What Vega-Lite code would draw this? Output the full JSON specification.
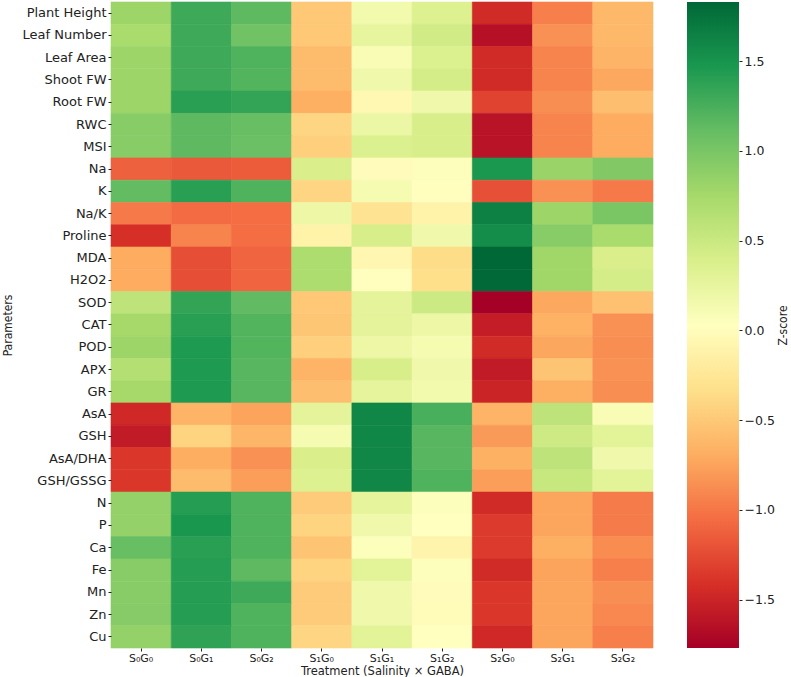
{
  "$schema": "https://vega.github.io/schema/vega-lite/v6.json",
  "background": "white",
  "padding": {"left": 1, "top": 1, "right": 0, "bottom": 0},
  "spacing": 33,
  "config": {
    "view": {"stroke": null},
    "font": "DejaVu Sans",
    "axis": {
      "domain": false,
      "ticks": true,
      "tickSize": 3,
      "tickColor": "#222",
      "labelColor": "#222",
      "titleColor": "#222",
      "labelFont": "DejaVu Sans",
      "titleFont": "DejaVu Sans",
      "labelFontSize": 11,
      "titleFontSize": 11,
      "titleFontWeight": "normal",
      "labelPadding": 2,
      "grid": false
    }
  },
  "datasets": {
    "cells": [
      {"parameter": "Plant Height", "treatment": "S₀G₀", "z": 0.80},
      {"parameter": "Plant Height", "treatment": "S₀G₁", "z": 1.30},
      {"parameter": "Plant Height", "treatment": "S₀G₂", "z": 1.15},
      {"parameter": "Plant Height", "treatment": "S₁G₀", "z": -0.50},
      {"parameter": "Plant Height", "treatment": "S₁G₁", "z": 0.15},
      {"parameter": "Plant Height", "treatment": "S₁G₂", "z": 0.35},
      {"parameter": "Plant Height", "treatment": "S₂G₀", "z": -1.45},
      {"parameter": "Plant Height", "treatment": "S₂G₁", "z": -0.95},
      {"parameter": "Plant Height", "treatment": "S₂G₂", "z": -0.62},
      {"parameter": "Leaf Number", "treatment": "S₀G₀", "z": 0.72},
      {"parameter": "Leaf Number", "treatment": "S₀G₁", "z": 1.30},
      {"parameter": "Leaf Number", "treatment": "S₀G₂", "z": 1.05},
      {"parameter": "Leaf Number", "treatment": "S₁G₀", "z": -0.50},
      {"parameter": "Leaf Number", "treatment": "S₁G₁", "z": 0.25},
      {"parameter": "Leaf Number", "treatment": "S₁G₂", "z": 0.45},
      {"parameter": "Leaf Number", "treatment": "S₂G₀", "z": -1.65},
      {"parameter": "Leaf Number", "treatment": "S₂G₁", "z": -0.85},
      {"parameter": "Leaf Number", "treatment": "S₂G₂", "z": -0.62},
      {"parameter": "Leaf Area", "treatment": "S₀G₀", "z": 0.80},
      {"parameter": "Leaf Area", "treatment": "S₀G₁", "z": 1.30},
      {"parameter": "Leaf Area", "treatment": "S₀G₂", "z": 1.22},
      {"parameter": "Leaf Area", "treatment": "S₁G₀", "z": -0.60},
      {"parameter": "Leaf Area", "treatment": "S₁G₁", "z": 0.10},
      {"parameter": "Leaf Area", "treatment": "S₁G₂", "z": 0.37},
      {"parameter": "Leaf Area", "treatment": "S₂G₀", "z": -1.45},
      {"parameter": "Leaf Area", "treatment": "S₂G₁", "z": -0.93},
      {"parameter": "Leaf Area", "treatment": "S₂G₂", "z": -0.65},
      {"parameter": "Shoot FW", "treatment": "S₀G₀", "z": 0.80},
      {"parameter": "Shoot FW", "treatment": "S₀G₁", "z": 1.30},
      {"parameter": "Shoot FW", "treatment": "S₀G₂", "z": 1.20},
      {"parameter": "Shoot FW", "treatment": "S₁G₀", "z": -0.60},
      {"parameter": "Shoot FW", "treatment": "S₁G₁", "z": 0.17},
      {"parameter": "Shoot FW", "treatment": "S₁G₂", "z": 0.42},
      {"parameter": "Shoot FW", "treatment": "S₂G₀", "z": -1.45},
      {"parameter": "Shoot FW", "treatment": "S₂G₁", "z": -0.93},
      {"parameter": "Shoot FW", "treatment": "S₂G₂", "z": -0.72},
      {"parameter": "Root FW", "treatment": "S₀G₀", "z": 0.80},
      {"parameter": "Root FW", "treatment": "S₀G₁", "z": 1.40},
      {"parameter": "Root FW", "treatment": "S₀G₂", "z": 1.35},
      {"parameter": "Root FW", "treatment": "S₁G₀", "z": -0.68},
      {"parameter": "Root FW", "treatment": "S₁G₁", "z": -0.05},
      {"parameter": "Root FW", "treatment": "S₁G₂", "z": 0.17},
      {"parameter": "Root FW", "treatment": "S₂G₀", "z": -1.30},
      {"parameter": "Root FW", "treatment": "S₂G₁", "z": -0.87},
      {"parameter": "Root FW", "treatment": "S₂G₂", "z": -0.57},
      {"parameter": "RWC", "treatment": "S₀G₀", "z": 0.92},
      {"parameter": "RWC", "treatment": "S₀G₁", "z": 1.15},
      {"parameter": "RWC", "treatment": "S₀G₂", "z": 1.10},
      {"parameter": "RWC", "treatment": "S₁G₀", "z": -0.40},
      {"parameter": "RWC", "treatment": "S₁G₁", "z": 0.22},
      {"parameter": "RWC", "treatment": "S₁G₂", "z": 0.40},
      {"parameter": "RWC", "treatment": "S₂G₀", "z": -1.63},
      {"parameter": "RWC", "treatment": "S₂G₁", "z": -0.93},
      {"parameter": "RWC", "treatment": "S₂G₂", "z": -0.70},
      {"parameter": "MSI", "treatment": "S₀G₀", "z": 0.92},
      {"parameter": "MSI", "treatment": "S₀G₁", "z": 1.15},
      {"parameter": "MSI", "treatment": "S₀G₂", "z": 1.08},
      {"parameter": "MSI", "treatment": "S₁G₀", "z": -0.45},
      {"parameter": "MSI", "treatment": "S₁G₁", "z": 0.37},
      {"parameter": "MSI", "treatment": "S₁G₂", "z": 0.40},
      {"parameter": "MSI", "treatment": "S₂G₀", "z": -1.63},
      {"parameter": "MSI", "treatment": "S₂G₁", "z": -0.93},
      {"parameter": "MSI", "treatment": "S₂G₂", "z": -0.70},
      {"parameter": "Na", "treatment": "S₀G₀", "z": -1.12},
      {"parameter": "Na", "treatment": "S₀G₁", "z": -1.17},
      {"parameter": "Na", "treatment": "S₀G₂", "z": -1.15},
      {"parameter": "Na", "treatment": "S₁G₀", "z": 0.38},
      {"parameter": "Na", "treatment": "S₁G₁", "z": 0.00},
      {"parameter": "Na", "treatment": "S₁G₂", "z": 0.05},
      {"parameter": "Na", "treatment": "S₂G₀", "z": 1.47},
      {"parameter": "Na", "treatment": "S₂G₁", "z": 0.82},
      {"parameter": "Na", "treatment": "S₂G₂", "z": 0.95},
      {"parameter": "K", "treatment": "S₀G₀", "z": 1.12},
      {"parameter": "K", "treatment": "S₀G₁", "z": 1.40},
      {"parameter": "K", "treatment": "S₀G₂", "z": 1.22},
      {"parameter": "K", "treatment": "S₁G₀", "z": -0.40},
      {"parameter": "K", "treatment": "S₁G₁", "z": 0.12},
      {"parameter": "K", "treatment": "S₁G₂", "z": 0.02},
      {"parameter": "K", "treatment": "S₂G₀", "z": -1.22},
      {"parameter": "K", "treatment": "S₂G₁", "z": -0.85},
      {"parameter": "K", "treatment": "S₂G₂", "z": -0.98},
      {"parameter": "Na/K", "treatment": "S₀G₀", "z": -0.98},
      {"parameter": "Na/K", "treatment": "S₀G₁", "z": -1.06},
      {"parameter": "Na/K", "treatment": "S₀G₂", "z": -1.05},
      {"parameter": "Na/K", "treatment": "S₁G₀", "z": 0.20},
      {"parameter": "Na/K", "treatment": "S₁G₁", "z": -0.28},
      {"parameter": "Na/K", "treatment": "S₁G₂", "z": -0.12},
      {"parameter": "Na/K", "treatment": "S₂G₀", "z": 1.65},
      {"parameter": "Na/K", "treatment": "S₂G₁", "z": 0.80},
      {"parameter": "Na/K", "treatment": "S₂G₂", "z": 1.00},
      {"parameter": "Proline", "treatment": "S₀G₀", "z": -1.42},
      {"parameter": "Proline", "treatment": "S₀G₁", "z": -0.93},
      {"parameter": "Proline", "treatment": "S₀G₂", "z": -1.05},
      {"parameter": "Proline", "treatment": "S₁G₀", "z": -0.12},
      {"parameter": "Proline", "treatment": "S₁G₁", "z": 0.40},
      {"parameter": "Proline", "treatment": "S₁G₂", "z": 0.17},
      {"parameter": "Proline", "treatment": "S₂G₀", "z": 1.55},
      {"parameter": "Proline", "treatment": "S₂G₁", "z": 0.92},
      {"parameter": "Proline", "treatment": "S₂G₂", "z": 0.72},
      {"parameter": "MDA", "treatment": "S₀G₀", "z": -0.70},
      {"parameter": "MDA", "treatment": "S₀G₁", "z": -1.23},
      {"parameter": "MDA", "treatment": "S₀G₂", "z": -1.10},
      {"parameter": "MDA", "treatment": "S₁G₀", "z": 0.70},
      {"parameter": "MDA", "treatment": "S₁G₁", "z": -0.07},
      {"parameter": "MDA", "treatment": "S₁G₂", "z": -0.35},
      {"parameter": "MDA", "treatment": "S₂G₀", "z": 1.83},
      {"parameter": "MDA", "treatment": "S₂G₁", "z": 0.78},
      {"parameter": "MDA", "treatment": "S₂G₂", "z": 0.38},
      {"parameter": "H2O2", "treatment": "S₀G₀", "z": -0.70},
      {"parameter": "H2O2", "treatment": "S₀G₁", "z": -1.23},
      {"parameter": "H2O2", "treatment": "S₀G₂", "z": -1.10},
      {"parameter": "H2O2", "treatment": "S₁G₀", "z": 0.70},
      {"parameter": "H2O2", "treatment": "S₁G₁", "z": 0.02},
      {"parameter": "H2O2", "treatment": "S₁G₂", "z": -0.33},
      {"parameter": "H2O2", "treatment": "S₂G₀", "z": 1.82},
      {"parameter": "H2O2", "treatment": "S₂G₁", "z": 0.78},
      {"parameter": "H2O2", "treatment": "S₂G₂", "z": 0.42},
      {"parameter": "SOD", "treatment": "S₀G₀", "z": 0.58},
      {"parameter": "SOD", "treatment": "S₀G₁", "z": 1.35},
      {"parameter": "SOD", "treatment": "S₀G₂", "z": 1.13},
      {"parameter": "SOD", "treatment": "S₁G₀", "z": -0.50},
      {"parameter": "SOD", "treatment": "S₁G₁", "z": 0.28},
      {"parameter": "SOD", "treatment": "S₁G₂", "z": 0.48},
      {"parameter": "SOD", "treatment": "S₂G₀", "z": -1.77},
      {"parameter": "SOD", "treatment": "S₂G₁", "z": -0.72},
      {"parameter": "SOD", "treatment": "S₂G₂", "z": -0.55},
      {"parameter": "CAT", "treatment": "S₀G₀", "z": 0.75},
      {"parameter": "CAT", "treatment": "S₀G₁", "z": 1.40},
      {"parameter": "CAT", "treatment": "S₀G₂", "z": 1.20},
      {"parameter": "CAT", "treatment": "S₁G₀", "z": -0.52},
      {"parameter": "CAT", "treatment": "S₁G₁", "z": 0.28},
      {"parameter": "CAT", "treatment": "S₁G₂", "z": 0.20},
      {"parameter": "CAT", "treatment": "S₂G₀", "z": -1.55},
      {"parameter": "CAT", "treatment": "S₂G₁", "z": -0.66},
      {"parameter": "CAT", "treatment": "S₂G₂", "z": -0.85},
      {"parameter": "POD", "treatment": "S₀G₀", "z": 0.80},
      {"parameter": "POD", "treatment": "S₀G₁", "z": 1.45},
      {"parameter": "POD", "treatment": "S₀G₂", "z": 1.20},
      {"parameter": "POD", "treatment": "S₁G₀", "z": -0.45},
      {"parameter": "POD", "treatment": "S₁G₁", "z": 0.20},
      {"parameter": "POD", "treatment": "S₁G₂", "z": 0.12},
      {"parameter": "POD", "treatment": "S₂G₀", "z": -1.45},
      {"parameter": "POD", "treatment": "S₂G₁", "z": -0.73},
      {"parameter": "POD", "treatment": "S₂G₂", "z": -0.87},
      {"parameter": "APX", "treatment": "S₀G₀", "z": 0.65},
      {"parameter": "APX", "treatment": "S₀G₁", "z": 1.45},
      {"parameter": "APX", "treatment": "S₀G₂", "z": 1.18},
      {"parameter": "APX", "treatment": "S₁G₀", "z": -0.65},
      {"parameter": "APX", "treatment": "S₁G₁", "z": 0.40},
      {"parameter": "APX", "treatment": "S₁G₂", "z": 0.17},
      {"parameter": "APX", "treatment": "S₂G₀", "z": -1.57},
      {"parameter": "APX", "treatment": "S₂G₁", "z": -0.53},
      {"parameter": "APX", "treatment": "S₂G₂", "z": -0.85},
      {"parameter": "GR", "treatment": "S₀G₀", "z": 0.75},
      {"parameter": "GR", "treatment": "S₀G₁", "z": 1.45},
      {"parameter": "GR", "treatment": "S₀G₂", "z": 1.18},
      {"parameter": "GR", "treatment": "S₁G₀", "z": -0.57},
      {"parameter": "GR", "treatment": "S₁G₁", "z": 0.27},
      {"parameter": "GR", "treatment": "S₁G₂", "z": 0.15},
      {"parameter": "GR", "treatment": "S₂G₀", "z": -1.50},
      {"parameter": "GR", "treatment": "S₂G₁", "z": -0.68},
      {"parameter": "GR", "treatment": "S₂G₂", "z": -0.87},
      {"parameter": "AsA", "treatment": "S₀G₀", "z": -1.47},
      {"parameter": "AsA", "treatment": "S₀G₁", "z": -0.65},
      {"parameter": "AsA", "treatment": "S₀G₂", "z": -0.75},
      {"parameter": "AsA", "treatment": "S₁G₀", "z": 0.28},
      {"parameter": "AsA", "treatment": "S₁G₁", "z": 1.60},
      {"parameter": "AsA", "treatment": "S₁G₂", "z": 1.25},
      {"parameter": "AsA", "treatment": "S₂G₀", "z": -0.65},
      {"parameter": "AsA", "treatment": "S₂G₁", "z": 0.58},
      {"parameter": "AsA", "treatment": "S₂G₂", "z": 0.10},
      {"parameter": "GSH", "treatment": "S₀G₀", "z": -1.57},
      {"parameter": "GSH", "treatment": "S₀G₁", "z": -0.42},
      {"parameter": "GSH", "treatment": "S₀G₂", "z": -0.63},
      {"parameter": "GSH", "treatment": "S₁G₀", "z": 0.12},
      {"parameter": "GSH", "treatment": "S₁G₁", "z": 1.60},
      {"parameter": "GSH", "treatment": "S₁G₂", "z": 1.18},
      {"parameter": "GSH", "treatment": "S₂G₀", "z": -0.80},
      {"parameter": "GSH", "treatment": "S₂G₁", "z": 0.47},
      {"parameter": "GSH", "treatment": "S₂G₂", "z": 0.30},
      {"parameter": "AsA/DHA", "treatment": "S₀G₀", "z": -1.37},
      {"parameter": "AsA/DHA", "treatment": "S₀G₁", "z": -0.69},
      {"parameter": "AsA/DHA", "treatment": "S₀G₂", "z": -0.85},
      {"parameter": "AsA/DHA", "treatment": "S₁G₀", "z": 0.38},
      {"parameter": "AsA/DHA", "treatment": "S₁G₁", "z": 1.60},
      {"parameter": "AsA/DHA", "treatment": "S₁G₂", "z": 1.18},
      {"parameter": "AsA/DHA", "treatment": "S₂G₀", "z": -0.67},
      {"parameter": "AsA/DHA", "treatment": "S₂G₁", "z": 0.58},
      {"parameter": "AsA/DHA", "treatment": "S₂G₂", "z": 0.17},
      {"parameter": "GSH/GSSG", "treatment": "S₀G₀", "z": -1.37},
      {"parameter": "GSH/GSSG", "treatment": "S₀G₁", "z": -0.60},
      {"parameter": "GSH/GSSG", "treatment": "S₀G₂", "z": -0.78},
      {"parameter": "GSH/GSSG", "treatment": "S₁G₀", "z": 0.35},
      {"parameter": "GSH/GSSG", "treatment": "S₁G₁", "z": 1.60},
      {"parameter": "GSH/GSSG", "treatment": "S₁G₂", "z": 1.22},
      {"parameter": "GSH/GSSG", "treatment": "S₂G₀", "z": -0.78},
      {"parameter": "GSH/GSSG", "treatment": "S₂G₁", "z": 0.52},
      {"parameter": "GSH/GSSG", "treatment": "S₂G₂", "z": 0.30},
      {"parameter": "N", "treatment": "S₀G₀", "z": 0.85},
      {"parameter": "N", "treatment": "S₀G₁", "z": 1.42},
      {"parameter": "N", "treatment": "S₀G₂", "z": 1.22},
      {"parameter": "N", "treatment": "S₁G₀", "z": -0.48},
      {"parameter": "N", "treatment": "S₁G₁", "z": 0.27},
      {"parameter": "N", "treatment": "S₁G₂", "z": 0.06},
      {"parameter": "N", "treatment": "S₂G₀", "z": -1.45},
      {"parameter": "N", "treatment": "S₂G₁", "z": -0.74},
      {"parameter": "N", "treatment": "S₂G₂", "z": -0.97},
      {"parameter": "P", "treatment": "S₀G₀", "z": 0.85},
      {"parameter": "P", "treatment": "S₀G₁", "z": 1.48},
      {"parameter": "P", "treatment": "S₀G₂", "z": 1.22},
      {"parameter": "P", "treatment": "S₁G₀", "z": -0.42},
      {"parameter": "P", "treatment": "S₁G₁", "z": 0.17},
      {"parameter": "P", "treatment": "S₁G₂", "z": 0.03},
      {"parameter": "P", "treatment": "S₂G₀", "z": -1.35},
      {"parameter": "P", "treatment": "S₂G₁", "z": -0.74},
      {"parameter": "P", "treatment": "S₂G₂", "z": -0.97},
      {"parameter": "Ca", "treatment": "S₀G₀", "z": 1.10},
      {"parameter": "Ca", "treatment": "S₀G₁", "z": 1.40},
      {"parameter": "Ca", "treatment": "S₀G₂", "z": 1.22},
      {"parameter": "Ca", "treatment": "S₁G₀", "z": -0.53},
      {"parameter": "Ca", "treatment": "S₁G₁", "z": 0.06},
      {"parameter": "Ca", "treatment": "S₁G₂", "z": -0.10},
      {"parameter": "Ca", "treatment": "S₂G₀", "z": -1.35},
      {"parameter": "Ca", "treatment": "S₂G₁", "z": -0.68},
      {"parameter": "Ca", "treatment": "S₂G₂", "z": -0.88},
      {"parameter": "Fe", "treatment": "S₀G₀", "z": 0.92},
      {"parameter": "Fe", "treatment": "S₀G₁", "z": 1.42},
      {"parameter": "Fe", "treatment": "S₀G₂", "z": 1.15},
      {"parameter": "Fe", "treatment": "S₁G₀", "z": -0.42},
      {"parameter": "Fe", "treatment": "S₁G₁", "z": 0.30},
      {"parameter": "Fe", "treatment": "S₁G₂", "z": 0.05},
      {"parameter": "Fe", "treatment": "S₂G₀", "z": -1.45},
      {"parameter": "Fe", "treatment": "S₂G₁", "z": -0.75},
      {"parameter": "Fe", "treatment": "S₂G₂", "z": -0.95},
      {"parameter": "Mn", "treatment": "S₀G₀", "z": 0.92},
      {"parameter": "Mn", "treatment": "S₀G₁", "z": 1.42},
      {"parameter": "Mn", "treatment": "S₀G₂", "z": 1.30},
      {"parameter": "Mn", "treatment": "S₁G₀", "z": -0.48},
      {"parameter": "Mn", "treatment": "S₁G₁", "z": 0.17},
      {"parameter": "Mn", "treatment": "S₁G₂", "z": 0.00},
      {"parameter": "Mn", "treatment": "S₂G₀", "z": -1.37},
      {"parameter": "Mn", "treatment": "S₂G₁", "z": -0.74},
      {"parameter": "Mn", "treatment": "S₂G₂", "z": -0.87},
      {"parameter": "Zn", "treatment": "S₀G₀", "z": 0.93},
      {"parameter": "Zn", "treatment": "S₀G₁", "z": 1.42},
      {"parameter": "Zn", "treatment": "S₀G₂", "z": 1.22},
      {"parameter": "Zn", "treatment": "S₁G₀", "z": -0.48},
      {"parameter": "Zn", "treatment": "S₁G₁", "z": 0.17},
      {"parameter": "Zn", "treatment": "S₁G₂", "z": -0.02},
      {"parameter": "Zn", "treatment": "S₂G₀", "z": -1.37},
      {"parameter": "Zn", "treatment": "S₂G₁", "z": -0.74},
      {"parameter": "Zn", "treatment": "S₂G₂", "z": -0.90},
      {"parameter": "Cu", "treatment": "S₀G₀", "z": 0.85},
      {"parameter": "Cu", "treatment": "S₀G₁", "z": 1.37},
      {"parameter": "Cu", "treatment": "S₀G₂", "z": 1.22},
      {"parameter": "Cu", "treatment": "S₁G₀", "z": -0.40},
      {"parameter": "Cu", "treatment": "S₁G₁", "z": 0.30},
      {"parameter": "Cu", "treatment": "S₁G₂", "z": 0.03},
      {"parameter": "Cu", "treatment": "S₂G₀", "z": -1.47},
      {"parameter": "Cu", "treatment": "S₂G₁", "z": -0.74},
      {"parameter": "Cu", "treatment": "S₂G₂", "z": -0.95}
    ],
    "zrange": [{"low": -1.77, "high": 1.83}]
  },
  "hconcat": [
    {
      "width": 542,
      "height": 646,
      "data": {"name": "cells"},
      "mark": {"type": "rect", "strokeWidth": 0.6},
      "encoding": {
        "x": {
          "field": "treatment",
          "type": "nominal",
          "sort": ["S₀G₀", "S₀G₁", "S₀G₂", "S₁G₀", "S₁G₁", "S₁G₂", "S₂G₀", "S₂G₁", "S₂G₂"],
          "scale": {"paddingInner": 0, "paddingOuter": 0},
          "axis": {"title": "Treatment (Salinity × GABA)", "labelAngle": 0, "labelPadding": 1, "labelFontSize": 11, "titlePadding": 2, "titleFontSize": 11.5}
        },
        "y": {
          "field": "parameter",
          "type": "nominal",
          "sort": ["Plant Height", "Leaf Number", "Leaf Area", "Shoot FW", "Root FW", "RWC", "MSI", "Na", "K", "Na/K", "Proline", "MDA", "H2O2", "SOD", "CAT", "POD", "APX", "GR", "AsA", "GSH", "AsA/DHA", "GSH/GSSG", "N", "P", "Ca", "Fe", "Mn", "Zn", "Cu"],
          "scale": {"paddingInner": 0, "paddingOuter": 0},
          "axis": {"title": "Parameters", "titleFont": "DejaVu Sans Condensed", "titleFontSize": 12, "labelFontSize": 13, "titlePadding": 8}
        },
        "color": {
          "field": "z",
          "type": "quantitative",
          "scale": {
            "domain": [-1.77, -1.41, -1.05, -0.69, -0.33, 0.03, 0.39, 0.75, 1.11, 1.47, 1.83],
            "range": ["#a50026", "#d73027", "#f46d43", "#fdae61", "#fee08b", "#ffffbf", "#d9ef8b", "#a6d96a", "#66bd63", "#1a9850", "#006837"],
            "interpolate": "rgb"
          },
          "legend": null
        },
        "stroke": {
          "field": "z",
          "type": "quantitative",
          "scale": {
            "domain": [-1.77, -1.41, -1.05, -0.69, -0.33, 0.03, 0.39, 0.75, 1.11, 1.47, 1.83],
            "range": ["#a50026", "#d73027", "#f46d43", "#fdae61", "#fee08b", "#ffffbf", "#d9ef8b", "#a6d96a", "#66bd63", "#1a9850", "#006837"],
            "interpolate": "rgb"
          },
          "legend": null
        }
      }
    },
    {
      "width": 52,
      "height": 646,
      "data": {"name": "zrange"},
      "mark": {
        "type": "rect",
        "color": {
          "gradient": "linear",
          "x1": 0, "y1": 1, "x2": 0, "y2": 0,
          "stops": [
            {"offset": 0.0, "color": "#a50026"},
            {"offset": 0.1, "color": "#d73027"},
            {"offset": 0.2, "color": "#f46d43"},
            {"offset": 0.3, "color": "#fdae61"},
            {"offset": 0.4, "color": "#fee08b"},
            {"offset": 0.5, "color": "#ffffbf"},
            {"offset": 0.6, "color": "#d9ef8b"},
            {"offset": 0.7, "color": "#a6d96a"},
            {"offset": 0.8, "color": "#66bd63"},
            {"offset": 0.9, "color": "#1a9850"},
            {"offset": 1.0, "color": "#006837"}
          ]
        }
      },
      "encoding": {
        "x": {"value": 0},
        "x2": {"value": "width"},
        "y": {
          "field": "low",
          "type": "quantitative",
          "scale": {"domain": [-1.77, 1.83], "nice": false, "zero": false},
          "axis": {
            "orient": "right",
            "title": "Z-score",
            "titleAngle": -90,
            "titleFont": "DejaVu Sans Condensed",
            "titleFontSize": 12,
            "titlePadding": 15,
            "values": [-1.5, -1, -0.5, 0, 0.5, 1, 1.5],
            "format": ".1f",
            "labelFontSize": 12.5,
            "labelPadding": 2
          }
        },
        "y2": {"field": "high"}
      }
    }
  ]
}
